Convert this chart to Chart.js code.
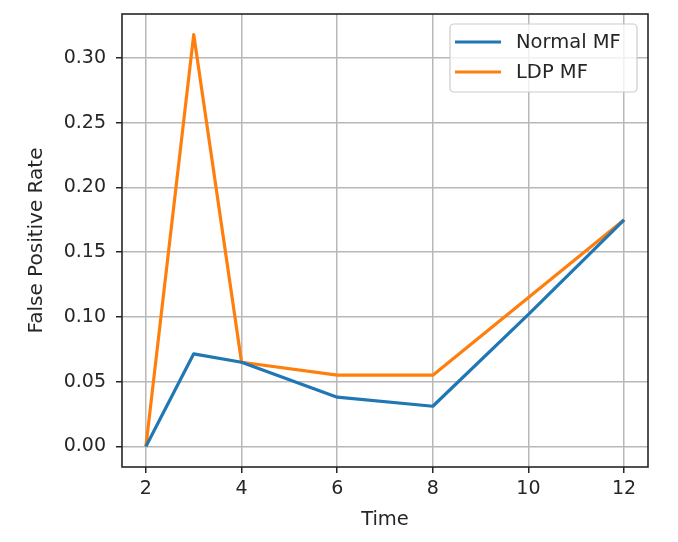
<!DOCTYPE html>
<html>
<head>
<meta charset="utf-8">
<script src="https://cdn.jsdelivr.net/npm/chart.js@4.4.0/dist/chart.umd.min.js"></script>
<style>
html,body{margin:0;padding:0;background:#fff;}
#wrap{width:678px;height:542px;position:relative;}
</style>
</head>
<body>
<div id="wrap"><canvas id="c" width="678" height="542"></canvas></div>
<script>
const times = [2, 3, 4, 6, 8, 10, 12];
const normalMF = [0.000, 0.0715, 0.065, 0.038, 0.031, 0.102, 0.175];
const ldpMF = [0.000, 0.318, 0.065, 0.055, 0.055, 0.115, 0.175];
const xTicks = [2, 4, 6, 8, 10, 12];
const yTicks = [0.00, 0.05, 0.10, 0.15, 0.20, 0.25, 0.30];
const seriesNames = ['Normal MF', 'LDP MF'];

const FONT = "'DejaVu Sans', sans-serif";
const TXT = '#262626';

const framePlugin = {
  id: 'frame',
  afterDraw(chart) {
    const {ctx, chartArea: a} = chart;
    ctx.save();
    ctx.strokeStyle = '#262626';
    ctx.lineWidth = 1.6;
    ctx.strokeRect(a.left, a.top, a.right - a.left, a.bottom - a.top);
    // legend
    const bx = 450, by = 24, bw = 187, bh = 68;
    ctx.fillStyle = 'rgba(255,255,255,0.8)';
    ctx.strokeStyle = '#cccccc';
    ctx.lineWidth = 1.2;
    ctx.beginPath();
    ctx.roundRect(bx, by, bw, bh, 4);
    ctx.fill();
    ctx.stroke();
    chart.data.datasets.forEach((ds, i) => {
      const y = 42 + i * 30;
      ctx.strokeStyle = ds.borderColor;
      ctx.lineWidth = 3;
      ctx.beginPath();
      ctx.moveTo(455, y);
      ctx.lineTo(501, y);
      ctx.stroke();
      ctx.fillStyle = TXT;
      ctx.font = '19.5px ' + FONT;
      ctx.textBaseline = 'middle';
      ctx.textAlign = 'left';
      ctx.fillText(ds.label, 516, y + 1);
    });
    ctx.restore();
  }
};

new Chart(document.getElementById('c'), {
  type: 'line',
  data: {
    datasets: [
      {label: seriesNames[0], data: times.map((t, i) => ({x: t, y: normalMF[i]})), borderColor: '#1f77b4', borderWidth: 3.2, borderJoinStyle: 'round', pointRadius: 0, fill: false, tension: 0},
      {label: seriesNames[1], data: times.map((t, i) => ({x: t, y: ldpMF[i]})), borderColor: '#ff7f0e', borderWidth: 3.2, borderJoinStyle: 'round', pointRadius: 0, fill: false, tension: 0}
    ]
  },
  options: {
    responsive: false,
    animation: false,
    layout: {padding: {top: 14, right: 30, left: 0, bottom: 0}},
    plugins: {legend: {display: false}, tooltip: {enabled: false}},
    scales: {
      x: {
        type: 'linear', min: 1.5, max: 12.5,
        afterBuildTicks: s => { s.ticks = xTicks.map(v => ({value: v})); },
        afterFit: s => { s.height = 75; s.paddingLeft = 0; s.paddingRight = 0; },
        grid: {color: '#b8b8b8', lineWidth: 1.5, tickColor: '#262626', tickLength: 6, drawOnChartArea: true},
        border: {display: false},
        ticks: {color: TXT, font: {family: FONT, size: 19}, padding: 5, maxRotation: 0, callback: v => String(v)},
        title: {display: true, text: 'Time', color: TXT, font: {family: FONT, size: 19.5}, padding: {top: 0, bottom: 10}}
      },
      y: {
        type: 'linear', min: -0.0159, max: 0.3339,
        afterBuildTicks: s => { s.ticks = yTicks.map(v => ({value: v})); },
        afterFit: s => { s.width = 122; s.paddingTop = 0; s.paddingBottom = 0; },
        grid: {color: '#b8b8b8', lineWidth: 1.5, tickColor: '#262626', tickLength: 6},
        border: {display: false},
        ticks: {color: TXT, font: {family: FONT, size: 19}, padding: 10, callback: v => v.toFixed(2)},
        title: {display: true, text: 'False Positive Rate', color: TXT, font: {family: FONT, size: 20}, padding: {top: 25, bottom: 0}}
      }
    }
  },
  plugins: [framePlugin]
});
</script>
</body>
</html>
